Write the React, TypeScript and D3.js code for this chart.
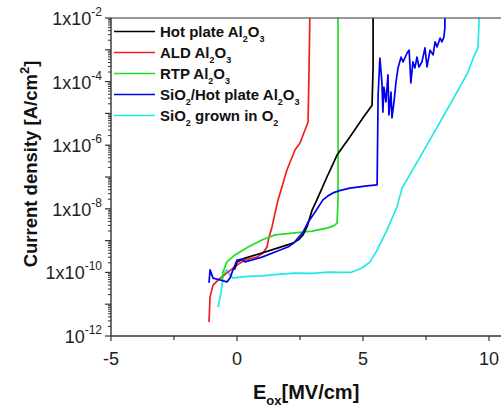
import React from 'react';
import * as d3 from 'd3';

const W = 501;
const H = 409;
const PL = 111, PT = 18, PR = 501, PB = 336;

const xDomain = [-5, 10.476];
const yDomain = [1e-12, 1e-2];
const xMajorTicks = [-5, 0, 5, 10];
const xMinorTicks = [-2.5, 2.5, 7.5];
const yLabelExps = [-2, -4, -6, -8, -10, -12];

// Hot plate Al2O3 (black)
const hotE = [-0.1, 0, 0.32, 0.99, 1.63, 2.22, 2.45, 2.62, 2.78, 2.98, 3.17, 3.57, 3.97, 4.48, 5.0, 5.36, 5.4, 5.4];
const hotLogJ = [-9.92, -9.67, -9.55, -9.39, -9.23, -9.08, -8.97, -8.82, -8.57, -8.04, -7.72, -7.0, -6.31, -5.74, -5.14, -4.74, -3.54, -1.5];

// ALD Al2O3 (red)
const aldE = [-1.11, -1.07, -0.95, -0.67, -0.36, 0, 0.32, 0.79, 1.03, 1.19, 1.27, 1.39, 1.51, 1.63, 1.98, 2.3, 2.5, 2.82, 2.86, 2.9];
const aldLogJ = [-11.56, -10.77, -10.4, -10.18, -9.99, -9.77, -9.61, -9.52, -9.39, -9.2, -8.89, -8.57, -8.13, -7.72, -6.78, -6.15, -5.93, -5.27, -3.54, -1.5];

// RTP Al2O3 (green)
const rtpE = [-0.6, -0.56, -0.4, -0.08, 0.44, 0.99, 1.51, 2.3, 2.98, 3.61, 3.85, 3.97, 4.01, 4.01];
const rtpLogJ = [-10.25, -9.99, -9.67, -9.45, -9.2, -8.98, -8.82, -8.76, -8.7, -8.6, -8.53, -8.45, -7.72, -1.5];

// SiO2/Hot plate Al2O3 (blue)
const sioHotE = [-1.11, -1.07, -0.95, -0.67, -0.4, -0.28, -0.16, -0.08, 0, 0.2, 0.32, 0.6, 0.99, 1.51, 2.02, 2.25, 2.42, 2.62, 2.82, 3.1, 3.41, 3.6, 3.81, 4.1, 4.48, 5.16, 5.56,
  5.6, 5.67, 5.75, 5.79, 5.83, 5.91, 5.99, 6.03, 6.11, 6.15, 6.23, 6.31, 6.39, 6.51, 6.59, 6.75, 6.83, 6.9, 6.98, 7.06, 7.14, 7.22, 7.34, 7.46, 7.54, 7.66, 7.78, 7.86, 7.94, 8.06, 8.13, 8.21, 8.25, 8.25];
const sioHotLogJ = [-10.33, -9.92, -10.18, -10.24, -10.3, -10.18, -9.92, -9.77, -9.61, -9.58, -9.67, -9.61, -9.52, -9.36, -9.2, -9.08, -8.92, -8.73, -8.42, -8.1, -7.72, -7.6, -7.5, -7.42, -7.35, -7.28, -7.25,
  -4.42, -3.26, -4.01, -4.96, -4.17, -4.64, -3.79, -5.05, -4.33, -5.14, -4.64, -4.01, -3.57, -3.23, -3.38, -3.1, -3.01, -4.04, -3.38, -3.57, -3.23, -3.54, -3.38, -2.94, -3.54, -3.01, -3.16, -2.75, -2.91, -2.63, -2.75, -2.6, -2.3, -1.5];

// SiO2 grown in O2 (cyan)
const sioE = [-0.75, -0.67, -0.6, -0.56, -0.48, -0.4, -0.28, -0.16, 0.2, 0.6, 0.99, 1.6, 2.3, 3.0, 3.61, 4.2, 4.56, 4.96, 5.28, 5.56, 5.95, 6.35, 6.55, 7.38, 8.06, 8.73, 9.17, 9.37, 9.56, 9.6, 9.6];
const sioLogJ = [-11.09, -10.77, -10.46, -10.18, -9.99, -9.92, -10.08, -10.18, -10.14, -10.12, -10.11, -10.06, -10.02, -10.03, -9.99, -10.0, -9.99, -9.86, -9.67, -9.3, -8.67, -7.94, -7.35, -6.21, -5.27, -4.33, -3.7, -3.26, -2.94, -2.22, -1.5];

const series = [
  { key: 'hot', xs: hotE, ys: hotLogJ, color: '#000000' },
  { key: 'ald', xs: aldE, ys: aldLogJ, color: '#ee2020' },
  { key: 'rtp', xs: rtpE, ys: rtpLogJ, color: '#22dd22' },
  { key: 'sioHot', xs: sioHotE, ys: sioHotLogJ, color: '#0000ee' },
  { key: 'sio', xs: sioE, ys: sioLogJ, color: '#22e8e8' },
];
const drawOrder = ['sio', 'ald', 'rtp', 'hot', 'sioHot'];

const legendItems = [
  { key: 'hot', parts: [['Hot plate Al', ''], ['2', 'sub'], ['O', ''], ['3', 'sub']] },
  { key: 'ald', parts: [['ALD Al', ''], ['2', 'sub'], ['O', ''], ['3', 'sub']] },
  { key: 'rtp', parts: [['RTP Al', ''], ['2', 'sub'], ['O', ''], ['3', 'sub']] },
  { key: 'sioHot', parts: [['SiO', ''], ['2', 'sub'], ['/Hot plate Al', ''], ['2', 'sub'], ['O', ''], ['3', 'sub']] },
  { key: 'sio', parts: [['SiO', ''], ['2', 'sub'], [' grown in O', ''], ['2', 'sub']] },
];

const FONT = "Arial, 'Liberation Sans', sans-serif";

export default function App() {
  const x = d3.scaleLinear().domain(xDomain).range([PL, PR]);
  const y = d3.scaleLog().domain(yDomain).range([PB, PT]);
  const line = d3.line<[number, number]>()
    .x(d => x(d[0]))
    .y(d => y(Math.pow(10, d[1])));

  const decades = d3.range(-12, -1);
  const minor: number[] = [];
  decades.forEach(e => {
    if (e < -2) for (let k = 2; k <= 9; k++) minor.push(k * Math.pow(10, e));
  });

  const colorOf = (k: string) => series.find(s => s.key === k)!.color;

  return (
    <svg width={W} height={H} style={{ position: 'absolute', left: 0, top: 0, background: '#fff' }} fontFamily={FONT}>
      <defs>
        <clipPath id="plotClip">
          <rect x={PL} y={PT} width={PR - PL} height={PB - PT} />
        </clipPath>
      </defs>
      <rect x={0} y={0} width={W} height={H} fill="#fff" />

      <g clipPath="url(#plotClip)">
        {drawOrder.map(k => {
          const s = series.find(ss => ss.key === k)!;
          const pts: [number, number][] = s.xs.map((v, i) => [v, s.ys[i]]);
          return <path key={k} d={line(pts) || ''} fill="none" stroke={s.color} strokeWidth={1.7} strokeLinejoin="round" />;
        })}
      </g>

      {/* frame */}
      <line x1={PL} y1={PT} x2={PR} y2={PT} stroke="#333" strokeWidth={1.2} />
      <line x1={PL} y1={PT} x2={PL} y2={PB} stroke="#333" strokeWidth={1.4} />
      <line x1={PL} y1={PB} x2={PR} y2={PB} stroke="#333" strokeWidth={1.4} />

      {/* y ticks */}
      {decades.map(e => (
        <line key={'yd' + e} x1={PL - 6} x2={PL} y1={y(Math.pow(10, e))} y2={y(Math.pow(10, e))} stroke="#333" strokeWidth={1.2} />
      ))}
      {minor.map((v, i) => (
        <line key={'ym' + i} x1={PL - 3} x2={PL} y1={y(v)} y2={y(v)} stroke="#333" strokeWidth={1} />
      ))}
      {yLabelExps.map(e => (
        <text key={'yl' + e} x={PL - 9} y={y(Math.pow(10, e)) + 7} textAnchor="end" fontSize={18} fill="#222">
          {e === -12 ? '10' : '1x10'}
          <tspan fontSize={12} dy={-9}>{String(e)}</tspan>
        </text>
      ))}

      {/* x ticks */}
      {xMajorTicks.map(v => (
        <line key={'xt' + v} x1={x(v)} x2={x(v)} y1={PB} y2={PB + 5} stroke="#333" strokeWidth={1.2} />
      ))}
      {xMinorTicks.map(v => (
        <line key={'xm' + v} x1={x(v)} x2={x(v)} y1={PB} y2={PB + 4} stroke="#333" strokeWidth={1.2} />
      ))}
      {xMajorTicks.map(v => (
        <text key={'xl' + v} x={x(v)} y={PB + 29} textAnchor="middle" fontSize={18} fill="#222">{String(v)}</text>
      ))}

      {/* axis titles */}
      <text x={253} y={399} fontSize={20} fontWeight="bold" fill="#111">
        E<tspan fontSize={13} dy={6}>ox</tspan><tspan dy={-6}>[MV/cm]</tspan>
      </text>
      <text transform={`translate(37,164) rotate(-90)`} textAnchor="middle" fontSize={18.5} fontWeight="bold" fill="#111">
        Current density [A/cm<tspan fontSize={13} dy={-8}>2</tspan><tspan dy={8}>]</tspan>
      </text>

      {/* legend */}
      {legendItems.map((item, i) => {
        const ly = 31.5 + i * 21;
        return (
          <g key={item.key}>
            <line x1={114} x2={155} y1={ly} y2={ly} stroke={colorOf(item.key)} strokeWidth={1.7} />
            <text x={160} y={ly + 5} fontSize={15} fontWeight="bold" fill="#111">
              {item.parts.map((p, j) => {
                const prevSub = j > 0 && item.parts[j - 1][1] === 'sub';
                const isSub = p[1] === 'sub';
                const dy = isSub ? 5 : prevSub ? -5 : 0;
                return <tspan key={j} fontSize={isSub ? 9 : 15} dy={dy}>{p[0]}</tspan>;
              })}
            </text>
          </g>
        );
      })}
    </svg>
  );
}
